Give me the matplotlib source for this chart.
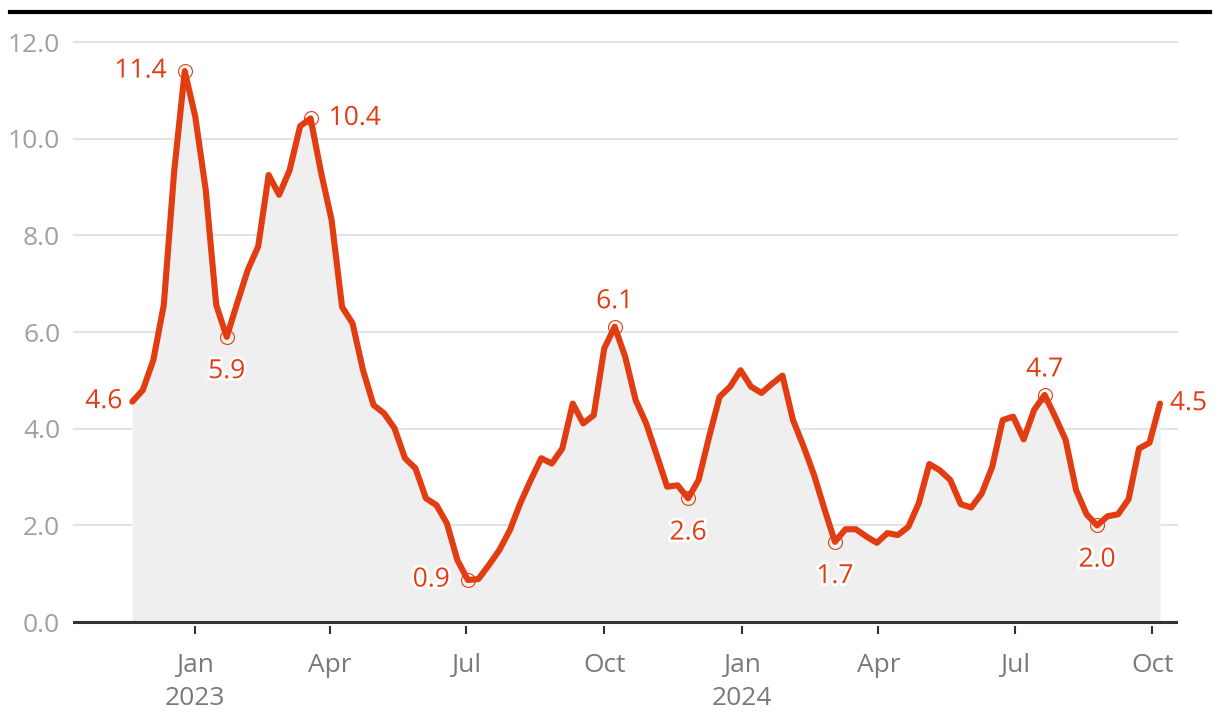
import matplotlib
matplotlib.use("Agg")
import matplotlib.pyplot as plt
import matplotlib.dates as mdates
import matplotlib.patheffects as pe
from matplotlib.lines import Line2D
import pandas as pd

# weekly series, Nov 2022 - Oct 2024
start_date = "2022-11-20"
values = [
    4.56, 4.80, 5.42, 6.56, 9.35, 11.40, 10.46, 8.94, 6.56, 5.90,
    6.60, 7.28, 7.77, 9.25, 8.84, 9.35, 10.26, 10.42, 9.30, 8.32,
    6.52, 6.18, 5.21, 4.49, 4.32, 4.01, 3.39, 3.18, 2.56, 2.42,
    2.04, 1.28, 0.87, 0.89, 1.18, 1.49, 1.90, 2.46, 2.94, 3.39,
    3.28, 3.59, 4.52, 4.11, 4.28, 5.66, 6.11, 5.49, 4.59, 4.11,
    3.46, 2.80, 2.83, 2.56, 2.94, 3.83, 4.66, 4.87, 5.21, 4.87,
    4.74, 4.93, 5.10, 4.18, 3.64, 3.05, 2.34, 1.66, 1.92, 1.92,
    1.77, 1.64, 1.84, 1.80, 1.97, 2.46, 3.27, 3.14, 2.94, 2.44,
    2.37, 2.66, 3.21, 4.18, 4.25, 3.78, 4.39, 4.70, 4.25, 3.77,
    2.73, 2.23, 2.00, 2.19, 2.23, 2.54, 3.59, 3.71, 4.52,
]
dates = pd.date_range(start_date, periods=len(values), freq="7D")

# annotated points: index, where the label goes, whether a circle is drawn
label_idx = [0, 5, 9, 17, 32, 46, 53, 67, 87, 92, 98]
label_pos = ["left", "left", "below", "right", "left", "above",
             "below", "below", "above", "below", "right"]
label_circle = [False, True, True, True, True, True, True, True, True, True, False]

y_ticks = [0, 2, 4, 6, 8, 10, 12]
x_ticks = ["2023-01-01", "2023-04-01", "2023-07-01", "2023-10-01",
           "2024-01-01", "2024-04-01", "2024-07-01", "2024-10-01"]
x_ticklabels = ["Jan\n2023", "Apr", "Jul", "Oct", "Jan\n2024", "Apr", "Jul", "Oct"]

RED = "#e23d12"
FILL = "#efefef"
GRID = "#e3e3e3"

plt.rcParams["font.family"] = ["Open Sans", "DejaVu Sans"]

fig = plt.figure(figsize=(12.2, 7.28), dpi=100)
ax = fig.add_axes([0.0596, 0.1402, 0.9057, 0.8153])

ax.fill_between(dates, 0, values, color=FILL, lw=0, zorder=1)
ax.plot(dates, values, color=RED, lw=4.4, solid_joinstyle="round",
        solid_capstyle="round", zorder=3)
ax.axhline(0, color="#333333", lw=2.2, zorder=4)

halo = [pe.withStroke(linewidth=4, foreground="white")]
offsets = {"left": (-13, 0, "right", "center"),
           "right": (13, 0, "left", "center"),
           "above": (0, 18, "center", "center"),
           "below": (0, -25, "center", "center")}
for i, pos, circ in zip(label_idx, label_pos, label_circle):
    dx, dy, ha, va = offsets[pos]
    if pos in ("left", "right") and not circ:
        dx = dx * 0.55
    if circ:
        ax.plot(dates[i], values[i], "o", ms=10, mfc="none", mec=RED,
                mew=0.8, zorder=5)
    ax.annotate(f"{values[i]:.1f}", (dates[i], values[i]), xytext=(dx, dy),
                textcoords="offset points", ha=ha, va=va, color=RED,
                fontsize=19, path_effects=halo, zorder=6)

jan23 = mdates.date2num(pd.Timestamp("2023-01-01"))
ax.set_xlim(jan23 - 81.8, jan23 + 655.8)
ax.set_ylim(-0.08, 12.2)

ax.set_yticks(y_ticks)
ax.set_yticklabels([f"{v:.1f}" for v in y_ticks])
ax.set_xticks([mdates.date2num(pd.Timestamp(d)) for d in x_ticks])
ax.set_xticklabels(x_ticklabels, linespacing=1.38)

ax.grid(axis="y", color=GRID, lw=1.5, zorder=0)
ax.set_axisbelow(True)
for s in ax.spines.values():
    s.set_visible(False)

ax.tick_params(axis="y", length=0, pad=9, labelsize=19, labelcolor="#a0a0a0")
ax.tick_params(axis="x", length=5.8, width=1.5, color="#333333", pad=14,
               labelsize=19, labelcolor="#7a7a7a")

# black rule across the top
fig.add_artist(Line2D([10 / 1220, 1210 / 1220], [1 - 12 / 728, 1 - 12 / 728],
                      color="black", lw=3, transform=fig.transFigure))

fig.savefig("out.png", dpi=100)
